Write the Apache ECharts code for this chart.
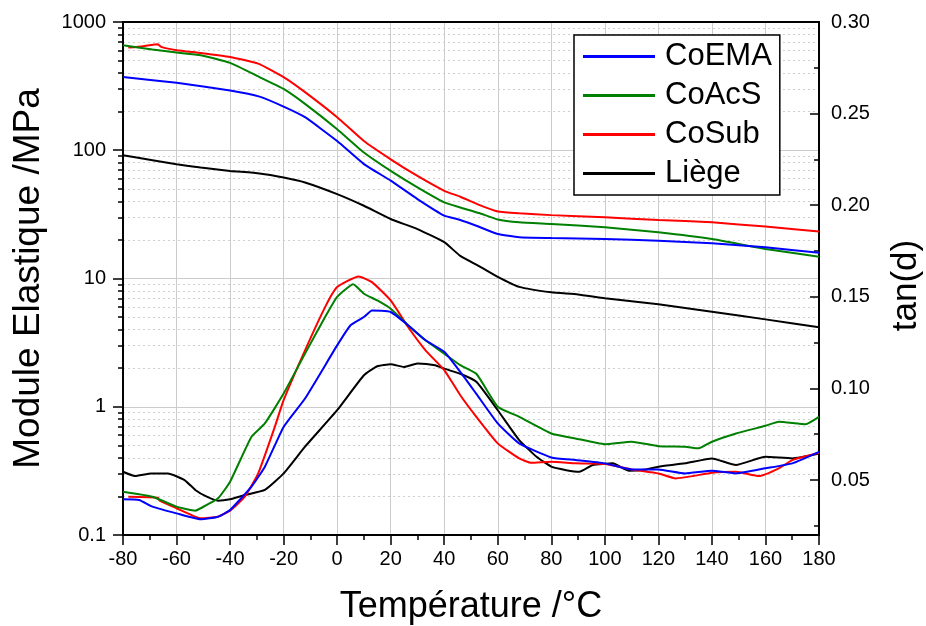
<!DOCTYPE html>
<html>
<head>
<meta charset="utf-8">
<script src="https://cdn.jsdelivr.net/npm/echarts@6/dist/echarts.min.js"></script>
<style>
html,body{margin:0;padding:0;background:#fff;}
#chart{width:926px;height:626px;}
</style>
</head>
<body>
<div id="chart"></div>
<script>
// ---- Data ----
const seriesNames = ['CoEMA', 'CoAcS', 'CoSub', 'Liège'];
const xTicks = [-80, -60, -40, -20, 0, 20, 40, 60, 80, 100, 120, 140, 160, 180];
const tanLabels = [0.05, 0.10, 0.15, 0.20, 0.25, 0.30];
const tanMinorTicks = [0.025, 0.075, 0.125, 0.175, 0.225, 0.275];

// Storage modulus E' (MPa), left log axis
const tEMA_E = [-80, -60, -40, -29, -20, -12, 0, 10, 20, 30, 40, 46, 53, 60, 68, 80, 100, 120, 140, 160, 180];
const vEMA_E = [372, 336, 292, 262, 219, 181, 118, 78, 58, 41.6, 30.9, 28.6, 25.3, 22.2, 21, 20.7, 20.3, 19.7, 18.8, 17.5, 15.9];

const tAcS_E = [-80, -69, -60, -51, -40, -29, -20, -12, 0, 10, 20, 30, 40, 46, 53, 60, 68, 80, 100, 120, 140, 160, 180];
const vAcS_E = [659, 610, 578, 551, 480, 372, 301, 230, 146, 96, 69, 51.3, 39.2, 35.8, 32.4, 28.8, 27.4, 26.6, 25.1, 22.9, 20.3, 17, 14.8];

const tSub_E = [-78, -72.5, -67, -65.7, -60, -51, -40, -29.5, -20, -12, 0, 10, 20, 30, 40, 46, 53, 60, 68, 80, 100, 120, 140, 160, 180];
const vSub_E = [632, 648, 672, 640, 603, 574, 534, 474, 372, 284, 181, 118, 85, 63, 48.3, 43.4, 37.5, 33.3, 32.2, 31.2, 30, 28.6, 27.4, 25.4, 23.3];

const tLie_E = [-80, -69, -60, -51, -40, -29, -20, -12, 0, 10, 20, 30, 40, 46, 53, 60, 68, 80, 90, 100, 120, 140, 160, 180];
const vLie_E = [91.4, 83.6, 77.8, 73.3, 69, 65.9, 61.3, 56.1, 45.5, 36.9, 29.1, 24.3, 19.2, 15, 12.5, 10.3, 8.6, 7.8, 7.5, 7.0, 6.3, 5.5, 4.8, 4.16];

// tan(delta), right axis
const tEMA_tan = [-80, -74, -69, -60, -51, -44.5, -40, -32, -27, -20, -12, 0, 5, 10, 13, 20, 26.5, 33, 40, 46, 52, 60, 68, 80, 89, 100, 110, 120, 130, 140, 149, 160, 170, 180];
const vEMA_tan = [0.0395, 0.0391, 0.0355, 0.0318, 0.0286, 0.030, 0.0337, 0.0464, 0.0573, 0.079, 0.0945, 0.1235, 0.1345, 0.139, 0.1426, 0.1417, 0.1345, 0.1263, 0.120, 0.109, 0.097, 0.0809, 0.070, 0.0623, 0.0609, 0.0591, 0.0558, 0.0558, 0.0536, 0.0551, 0.0536, 0.0564, 0.0591, 0.0654];

const tAcS_tan = [-80, -69, -60, -53, -51, -44.5, -40, -32, -27, -20, -12, -4.5, 0, 6, 10, 15, 20, 26.5, 33, 40, 46, 52, 60, 68, 80, 89, 100, 110, 120, 130, 135, 140, 149, 160, 165, 175, 180];
const vAcS_tan = [0.0436, 0.0409, 0.0355, 0.0333, 0.0346, 0.040, 0.0491, 0.0736, 0.0809, 0.0972, 0.119, 0.139, 0.150, 0.1568, 0.1517, 0.148, 0.1435, 0.1345, 0.1263, 0.119, 0.1127, 0.108, 0.090, 0.0845, 0.0754, 0.0727, 0.0696, 0.0709, 0.0685, 0.0682, 0.0673, 0.0709, 0.0754, 0.0796, 0.0818, 0.0805, 0.0845];

const tSub_tan = [-78, -67, -66.3, -60, -53, -51, -44.5, -40, -34.5, -29.5, -23.3, -20, -12, -4.5, 0, 8, 13, 20, 26.5, 33, 40, 46, 52, 60, 68, 72.5, 80, 89, 100, 110, 120, 126.5, 133, 140, 149, 157.6, 165, 170, 180];
const vSub_tan = [0.0409, 0.0404, 0.0387, 0.0346, 0.030, 0.0291, 0.030, 0.0333, 0.0409, 0.0536, 0.079, 0.0936, 0.1208, 0.1444, 0.1553, 0.1611, 0.158, 0.148, 0.1335, 0.1208, 0.110, 0.0963, 0.0845, 0.070, 0.0618, 0.0594, 0.060, 0.0591, 0.0587, 0.0558, 0.0536, 0.0509, 0.0522, 0.054, 0.0545, 0.0522, 0.0564, 0.0609, 0.0649];

const tLie_tan = [-80, -75.6, -69.4, -63.2, -57, -53, -48.7, -44.5, -40, -34.5, -27, -20, -12, 0, 10, 15, 20, 25, 30, 36.6, 40, 46, 52, 60, 68, 74.5, 80, 85.6, 90.5, 95.5, 103, 109, 115.4, 120, 130, 140, 149, 160, 170, 180];
const vLie_tan = [0.0545, 0.0522, 0.0536, 0.0536, 0.050, 0.0446, 0.0409, 0.0387, 0.0395, 0.0418, 0.0446, 0.0536, 0.0682, 0.0881, 0.1072, 0.1121, 0.1132, 0.1117, 0.1136, 0.1127, 0.1108, 0.108, 0.1036, 0.0881, 0.0718, 0.0627, 0.0573, 0.0554, 0.0545, 0.0582, 0.0591, 0.0551, 0.0558, 0.0573, 0.0591, 0.0618, 0.0582, 0.0627, 0.0618, 0.0645];

const colors = ['#0000ff', '#008000', '#ff0000', '#000000'];

// ---- Build ----
const FONT = 'Liberation Sans, Arial, Helvetica, sans-serif';
function zip(t, v) { return t.map((x, i) => [x, v[i]]); }

const eSets = [[tEMA_E, vEMA_E], [tAcS_E, vAcS_E], [tSub_E, vSub_E], [tLie_E, vLie_E]];
const tanSets = [[tEMA_tan, vEMA_tan], [tAcS_tan, vAcS_tan], [tSub_tan, vSub_tan], [tLie_tan, vLie_tan]];

const series = [];
seriesNames.forEach((name, i) => {
  series.push({
    name: name, type: 'line', xAxisIndex: 0, yAxisIndex: 0,
    data: zip(eSets[i][0], eSets[i][1]),
    showSymbol: false, symbol: 'none', smooth: 0.15,
    lineStyle: { color: colors[i], width: 2 }, itemStyle: { color: colors[i] },
    z: 10 - i
  });
});
seriesNames.forEach((name, i) => {
  series.push({
    name: name, type: 'line', xAxisIndex: 0, yAxisIndex: 2,
    data: zip(tanSets[i][0], tanSets[i][1]),
    showSymbol: false, symbol: 'none', smooth: 0.15,
    lineStyle: { color: colors[i], width: 2 }, itemStyle: { color: colors[i] },
    z: 10 - i
  });
});

const chart = echarts.init(document.getElementById('chart'), null, { renderer: 'canvas' });
const option = {
  animation: false,
  backgroundColor: '#ffffff',
  textStyle: { fontFamily: FONT },
  grid: { left: 123, right: 107, top: 22, bottom: 91, containLabel: false, outerBoundsMode: 'none' },
  legend: {
    data: seriesNames,
    orient: 'vertical',
    left: 574, top: 35,
    icon: 'rect',
    itemWidth: 72, itemHeight: 3,
    itemGap: 8,
    padding: [6, 8, 6, 9],
    borderColor: '#000', borderWidth: 1.5,
    backgroundColor: '#fff',
    textStyle: { fontSize: 31, color: '#000', fontFamily: FONT, padding: [0, 0, 0, 5] }
  },
  xAxis: [
    {
      type: 'value', position: 'bottom', min: -80, max: 180, interval: 20,
      name: 'Température /°C', nameLocation: 'middle', nameGap: 54,
      nameTextStyle: { fontSize: 36, color: '#000', fontFamily: FONT },
      axisLine: { show: true, onZero: false, lineStyle: { color: '#000', width: 2 } },
      axisTick: { show: true, inside: false, length: 10, lineStyle: { color: '#000', width: 1.5 } },
      minorTick: { show: true, splitNumber: 2, length: 5, lineStyle: { color: '#000', width: 1.5 } },
      axisLabel: { fontSize: 20, color: '#000', margin: 14, fontFamily: FONT },
      splitLine: { show: true, lineStyle: { color: '#cccccc', width: 1 } }
    },
    {
      type: 'value', position: 'top', min: -80, max: 180, interval: 20,
      axisLine: { show: true, onZero: false, lineStyle: { color: '#000', width: 2 } },
      axisTick: { show: false }, axisLabel: { show: false }, splitLine: { show: false }
    }
  ],
  yAxis: [
    {
      type: 'log', logBase: 10, position: 'left', min: 0.1, max: 1000,
      name: 'Module Elastique /MPa', nameLocation: 'middle', nameGap: 76, nameRotate: 90,
      nameTextStyle: { fontSize: 37, color: '#000', fontFamily: FONT },
      axisLine: { show: true, onZero: false, lineStyle: { color: '#000', width: 2 } },
      axisTick: { show: true, inside: false, length: 10, lineStyle: { color: '#000', width: 1.5 } },
      minorTick: { show: true, splitNumber: 9, length: 5, lineStyle: { color: '#000', width: 1.5 } },
      minorSplitLine: { show: true, lineStyle: { color: '#cfcfcf', width: 1, type: [2, 3] } },
      axisLabel: { fontSize: 20, color: '#000', margin: 17, fontFamily: FONT,
        formatter: function (v) { return String(+v.toPrecision(6)); } },
      splitLine: { show: true, lineStyle: { color: '#cccccc', width: 1 } }
    },
    {
      type: 'value', position: 'right', min: 0.02, max: 0.30,
      axisLine: { show: false, onZero: false },
      axisTick: { show: true, inside: true, length: 5, customValues: tanMinorTicks, lineStyle: { color: '#000', width: 1.5 } },
      axisLabel: { show: false, customValues: tanMinorTicks },
      splitLine: { show: false }
    },
    {
      type: 'value', position: 'right', min: 0.02, max: 0.30,
      name: 'tan(d)', nameLocation: 'middle', nameGap: 70, nameRotate: 90,
      nameTextStyle: { fontSize: 35, color: '#000', fontFamily: FONT, padding: [0, 14, 0, 0] },
      axisLine: { show: true, onZero: false, lineStyle: { color: '#000', width: 2 } },
      axisTick: { show: true, inside: true, length: 9, customValues: tanLabels, lineStyle: { color: '#000', width: 1.5 } },
      axisLabel: { fontSize: 20, color: '#000', margin: 12, fontFamily: FONT, customValues: tanLabels,
        formatter: function (v) { return (+v).toFixed(2); } },
      splitLine: { show: false }
    }
  ],
  series: series
};
chart.setOption(option);
</script>
</body>
</html>
